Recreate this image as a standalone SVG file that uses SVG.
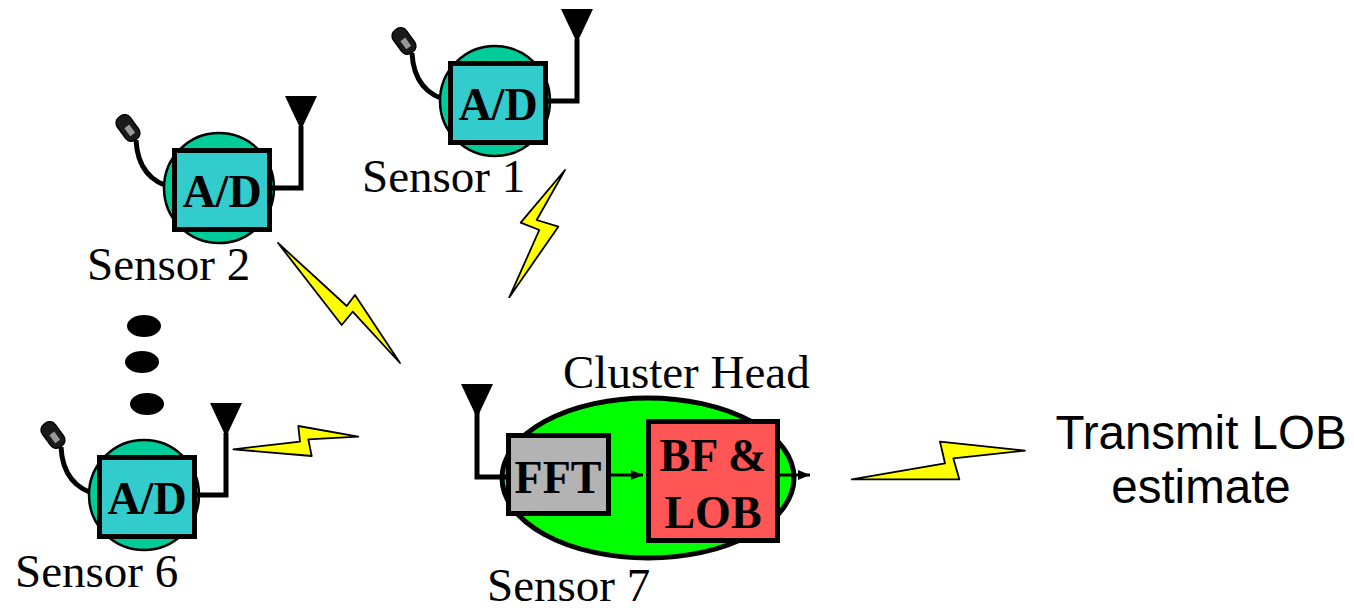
<svg xmlns="http://www.w3.org/2000/svg" xmlns:xlink="http://www.w3.org/1999/xlink" width="1354" height="610" viewBox="0 0 1354 610">
<style>
.lbl{font-family:"Liberation Serif","Times New Roman",serif;font-size:47px;fill:#000}
.bold{font-family:"Liberation Serif","Times New Roman",serif;font-size:46px;font-weight:bold;fill:#000;text-anchor:middle}
.sans{font-family:"Liberation Sans",Arial,sans-serif;font-size:47.5px;fill:#000;text-anchor:middle}
.wire{fill:none;stroke:#000;stroke-width:5}
.bolt{fill:#ffff00;stroke:#000;stroke-width:1.8;stroke-linejoin:round}
.thin{fill:none;stroke:#000;stroke-width:3}
</style>
<defs>
<marker id="ah" markerWidth="12" markerHeight="10" refX="12" refY="5" orient="auto" markerUnits="userSpaceOnUse">
<path d="M0,0 L12,5 L0,10 Z" fill="#000"/>
</marker>
<g id="sensorBody">
<path class="wire" d="M-36,-8 Q-34,32 2,40"/>
<g transform="translate(-44,-20) rotate(-36)">
<rect x="-8" y="-14" width="16" height="28" rx="7" fill="#1a1a1a" stroke="#000" stroke-width="1.5"/>
<rect x="-3" y="-2" width="6" height="10" fill="#999"/>
</g>
<circle cx="47" cy="40" r="55" fill="#00cc99" stroke="#000" stroke-width="2.5"/>
<rect x="2.5" y="2.5" width="95" height="79" fill="#33cccc" stroke="#000" stroke-width="5"/>
<text class="bold" x="50" y="59">A/D</text>
<path class="wire" d="M98,40 H129 V-22"/>
<path d="M113,-52 H145 L129,-18 Z" fill="#000"/>
</g>
</defs>

<g id="sensor1" transform="translate(448,61)">
<use xlink:href="#sensorBody"/>
</g>
<text class="lbl" x="362" y="192">Sensor 1</text>

<g id="sensor2" transform="translate(172,148)">
<use xlink:href="#sensorBody"/>
</g>
<text class="lbl" x="87" y="280">Sensor 2</text>

<g id="sensor6" transform="translate(97,455)">
<use xlink:href="#sensorBody"/>
</g>
<text class="lbl" x="15" y="587">Sensor 6</text>

<g id="dots">
<ellipse cx="144" cy="326" rx="17" ry="11" fill="#000"/>
<ellipse cx="142" cy="362" rx="17" ry="11" fill="#000"/>
<ellipse cx="147" cy="404" rx="17" ry="11" fill="#000"/>
</g>

<g id="clusterHead">
<ellipse cx="648" cy="478" rx="146" ry="80" fill="#00ff00" stroke="#000" stroke-width="5"/>
<path class="wire" d="M477,410 V477 H508"/>
<path d="M461,384 H493 L477,418 Z" fill="#000"/>
<rect x="508.5" y="435.5" width="100" height="78" fill="#b3b3b3" stroke="#000" stroke-width="5"/>
<text class="bold" x="558" y="493">FFT</text>
<rect x="648.5" y="421.5" width="129" height="119" fill="#ff5555" stroke="#000" stroke-width="5"/>
<text class="bold" x="713" y="471">BF &amp;</text>
<text class="bold" x="713" y="528">LOB</text>
</g>
<text class="lbl" x="563" y="388">Cluster Head</text>
<text class="lbl" x="487" y="601">Sensor 7</text>

<g id="connectors">
<line class="thin" x1="611" y1="475" x2="643" y2="475" marker-end="url(#ah)"/>
<line class="thin" x1="780" y1="475" x2="810" y2="475" marker-end="url(#ah)"/>
<polygon class="bolt" points="278,243 346.7,306 355,295 400,363 352.7,311.7 341.7,325"/>
<polygon class="bolt" points="565,170 520.7,222.7 539.3,230 509.3,297.3 558.3,226.7 536.7,220"/>
<polygon class="bolt" points="233.3,449.3 300,441.7 298.3,426 358.3,436.7 308.3,439.3 311.7,456"/>
<polygon class="bolt" points="851.7,479.3 945,463.3 940,441.7 1025,450.7 953.3,458.3 959.3,479.3"/>
</g>

<g id="transmit">
<text class="sans" x="1201" y="449">Transmit LOB</text>
<text class="sans" x="1201" y="503">estimate</text>
</g>
</svg>
